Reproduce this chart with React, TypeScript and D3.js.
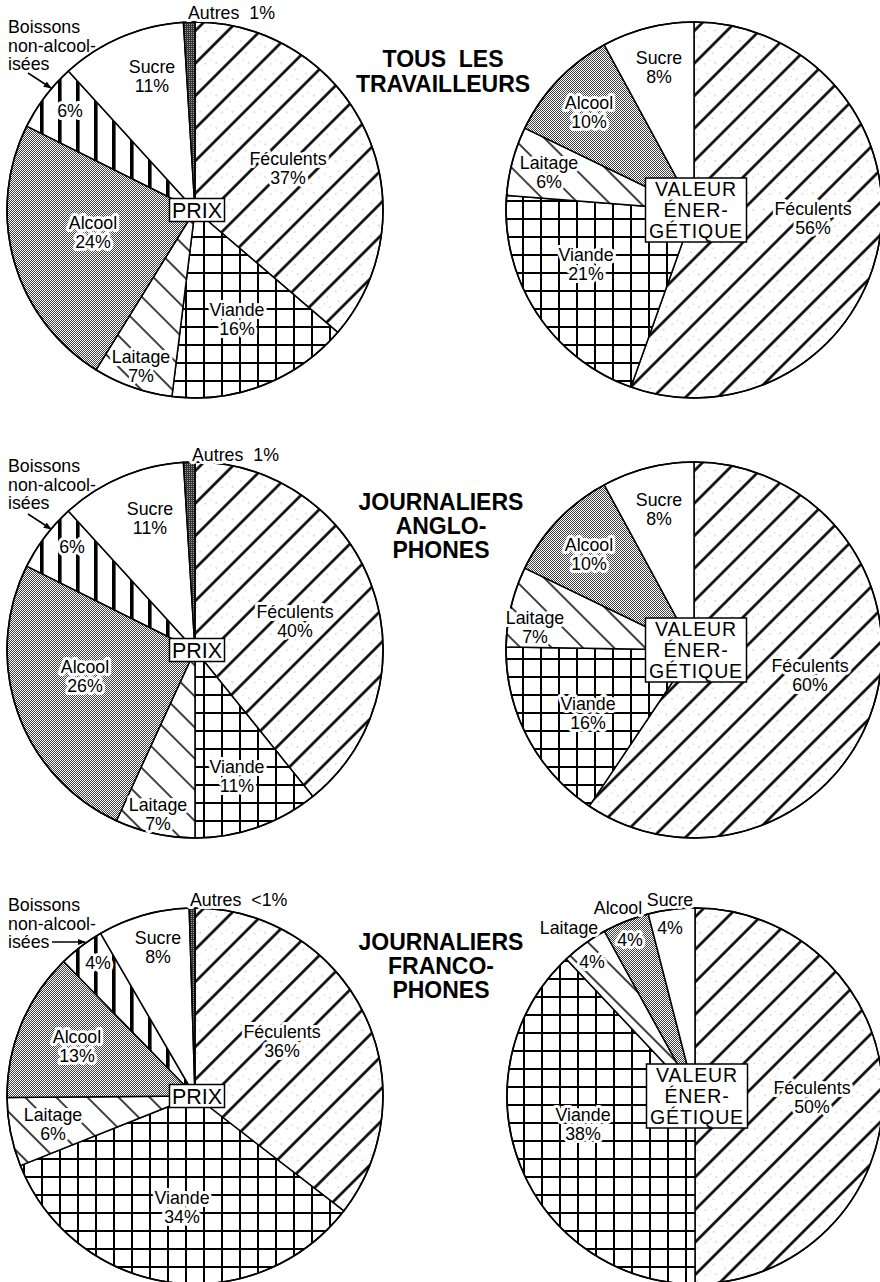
import React from 'react';
import * as d3 from 'd3';

// ---------- DATA ----------
const prixCategories = ['Féculents', 'Viande', 'Laitage', 'Alcool', 'Boissons', 'Sucre', 'Autres'];
const energieCategories = ['Féculents', 'Viande', 'Laitage', 'Alcool', 'Sucre'];

const prixTous = [37, 16, 7, 24, 6, 11, 1];
const energieTous = [56, 21, 6, 10, 8];
const prixAnglo = [40, 11, 7, 26, 6, 11, 1];
const energieAnglo = [60, 16, 7, 10, 8];
const prixFranco = [36, 34, 6, 13, 4, 8, 0.5];
const energieFranco = [50, 38, 4, 4, 4];

const groupTitles = [
  ['TOUS\u00A0\u00A0LES', 'TRAVAILLEURS'],
  ['JOURNALIERS', 'ANGLO-', 'PHONES'],
  ['JOURNALIERS', 'FRANCO-', 'PHONES'],
];
const boissonsLines = ['Boissons', 'non-alcool-', 'isées'];
const prixCenter = ['PRIX'];
const energieCenter = ['VALEUR', 'ÉNER-', 'GÉTIQUE'];

// ---------- LAYOUT ----------
const W = 880;
const H = 1282;
const R = 188;
const FONT = "'Liberation Sans', Arial, Helvetica, sans-serif";
const LFS = 17.8;

type Lab = number[]; // [dx, dy, pdx?, pdy?] name centre; pct offset from name
const layoutTL: Record<string, Lab> = {
  'Féculents': [93, -51], 'Viande': [42, 100], 'Laitage': [-54, 147], 'Alcool': [-102, 13],
  'Boissons': [-125, -99], 'Sucre': [-43, -143], 'Autres': [-7, -197],
};
const layoutML: Record<string, Lab> = {
  'Féculents': [100, -38], 'Viande': [42, 117], 'Laitage': [-37, 155], 'Alcool': [-110, 17],
  'Boissons': [-123, -103], 'Sucre': [-45, -141], 'Autres': [-3, -195],
};
const layoutBL: Record<string, Lab> = {
  'Féculents': [87, -64], 'Viande': [-13, 102], 'Laitage': [-142, 19], 'Alcool': [-118, -59],
  'Boissons': [-97, -133], 'Sucre': [-37, -158], 'Autres': [-5, -196],
};
const layoutTR: Record<string, Lab> = {
  'Sucre': [-35, -152], 'Alcool': [-105, -107], 'Laitage': [-145, -47], 'Féculents': [119, -1], 'Viande': [-108, 45],
};
const layoutMR: Record<string, Lab> = {
  'Sucre': [-35, -150], 'Alcool': [-105, -105], 'Laitage': [-159, -32], 'Féculents': [116, 16], 'Viande': [-106, 54],
};
const layoutBR: Record<string, Lab> = {
  'Sucre': [-25, -196, 0, 28], 'Alcool': [-77, -188, 12, 32], 'Laitage': [-126, -168, 23, 34],
  'Féculents': [117, -8], 'Viande': [-112, 19],
};

const fills: Record<string, string> = {
  'Féculents': 'url(#pFec)', 'Viande': 'url(#pGrid)', 'Laitage': 'url(#pLait)', 'Alcool': 'url(#pChk)',
  'Boissons': 'url(#pBars)', 'Sucre': '#ffffff', 'Autres': 'url(#pDark)',
};

const pies = [
  { cx: 195, cy: 210, cats: prixCategories, values: prixTous, layout: layoutTL, center: prixCenter, arrow: [[28, 73], [51, 88]], bl: [8, 27] },
  { cx: 694, cy: 210, cats: energieCategories, values: energieTous, layout: layoutTR, center: energieCenter },
  { cx: 195, cy: 650, cats: prixCategories, values: prixAnglo, layout: layoutML, center: prixCenter, arrow: [[28, 514], [51, 529]], bl: [8, 466] },
  { cx: 694, cy: 650, cats: energieCategories, values: energieAnglo, layout: layoutMR, center: energieCenter },
  { cx: 195, cy: 1096, cats: prixCategories, values: prixFranco, layout: layoutBL, center: prixCenter, arrow: [[52, 942], [85, 942]], bl: [8, 905] },
  { cx: 695, cy: 1096, cats: energieCategories, values: energieFranco, layout: layoutBR, center: energieCenter },
];
const titlePos = [[443, 59, 25], [441, 502, 24], [441, 942, 24]];

const fmt = (v: number) => (v < 1 ? '<1%' : `${v}%`);

function Label({ x, y, text, anchor = 'middle', size = LFS }: any) {
  const common = { x, y, dy: '0.36em', textAnchor: anchor, fontSize: size, fontFamily: FONT };
  return (
    <g>
      <text {...common} fill="#fff" stroke="#fff" strokeWidth={6} strokeLinejoin="round">{text}</text>
      <text {...common} fill="#000">{text}</text>
    </g>
  );
}

function Pie({ p }: any) {
  const arcs = d3.pie<number>().sort(null).value((d) => d)(p.values);
  const arc = d3.arc<d3.PieArcDatum<number>>().innerRadius(0).outerRadius(R);
  const isPrix = p.center.length === 1;
  const fs = isPrix ? 21.5 : 19.5;
  const ls = isPrix ? 0 : 0.9;
  const lh = 21;
  const boxW = isPrix ? 55 : 101;
  const boxH = isPrix ? 23 : 64;
  return (
    <g transform={`translate(${p.cx},${p.cy})`}>
      {arcs.map((a, i) => (
        <path key={i} d={arc(a) || ''} fill={fills[p.cats[i]]} stroke="#000" strokeWidth={1.5} strokeLinejoin="round" />
      ))}
      <circle r={R} fill="none" stroke="#000" strokeWidth={1.6} />
      {p.cats.map((c: string, i: number) => {
        const l = p.layout[c];
        if (!l) return null;
        const v = p.values[i];
        if (c === 'Autres') {
          return <Label key={c} x={l[0]} y={l[1]} anchor="start" text={`Autres\u00A0\u00A0${fmt(v)}`} />;
        }
        if (c === 'Boissons') {
          return <Label key={c} x={l[0]} y={l[1]} text={fmt(v)} />;
        }
        const pdx = l.length > 2 ? l[2] : 0;
        const pdy = l.length > 3 ? l[3] : 19;
        return (
          <g key={c}>
            <Label x={l[0]} y={l[1]} text={c} />
            <Label x={l[0] + pdx} y={l[1] + pdy} text={fmt(v)} />
          </g>
        );
      })}
      <rect x={-boxW / 2 + 2} y={-boxH / 2} width={boxW} height={boxH} fill="#fff" stroke="#000" strokeWidth={1.5} />
      {p.center.map((t: string, i: number) => (
        <text key={i} x={2} y={(i - (p.center.length - 1) / 2) * lh} dy="0.36em" textAnchor="middle"
          fontSize={fs} letterSpacing={ls} fontFamily={FONT} fill="#000">{t}</text>
      ))}
    </g>
  );
}

export default function App() {
  return (
    <svg width={W} height={H} viewBox={`0 0 ${W} ${H}`} style={{ position: 'absolute', left: 0, top: 0, background: '#fff' }}>
      <defs>
        <pattern id="pFec" width={23} height={23} patternUnits="userSpaceOnUse" patternTransform="rotate(-45)">
          <rect width={23} height={23} fill="#fff" />
          <circle cx={4} cy={3} r={0.6} fill="#777" />
          <circle cx={14} cy={5} r={0.6} fill="#888" />
          <circle cx={9} cy={17} r={0.6} fill="#777" />
          <circle cx={19} cy={19} r={0.6} fill="#888" />
          <circle cx={2} cy={20} r={0.5} fill="#999" />
          <line x1={0} x2={23} y1={11.5} y2={11.5} stroke="#000" strokeWidth={2.6} />
        </pattern>
        <pattern id="pGrid" width={18} height={18} patternUnits="userSpaceOnUse">
          <rect width={18} height={18} fill="#fff" />
          <path d="M0,9H18M9,0V18" stroke="#000" strokeWidth={2} />
        </pattern>
        <pattern id="pLait" width={22} height={22} patternUnits="userSpaceOnUse" patternTransform="rotate(45)">
          <rect width={22} height={22} fill="#fff" />
          <line x1={0} x2={22} y1={11} y2={11} stroke="#000" strokeWidth={1.5} />
        </pattern>
        <pattern id="pChk" width={2} height={2} patternUnits="userSpaceOnUse">
          <rect width={2} height={2} fill="#fff" />
          <rect width={1} height={1} fill="#444" />
          <rect x={1} y={1} width={1} height={1} fill="#444" />
        </pattern>
        <pattern id="pBars" width={18} height={10} patternUnits="userSpaceOnUse">
          <rect width={18} height={10} fill="#fff" />
          <rect x={7} width={3.6} height={10} fill="#000" />
        </pattern>
        <pattern id="pDark" width={2} height={2} patternUnits="userSpaceOnUse">
          <rect width={2} height={2} fill="#333" />
          <rect width={1} height={1} fill="#999" />
        </pattern>
        <marker id="arr" viewBox="0 0 10 10" refX={9} refY={5} markerWidth={8} markerHeight={8} orient="auto" markerUnits="userSpaceOnUse">
          <path d="M0,1L10,5L0,9Z" fill="#000" />
        </marker>
      </defs>
      {pies.map((p, i) => (
        <g key={i}>
          <Pie p={p} />
          {p.bl && boissonsLines.map((t, j) => (
            <text key={j} x={p.bl[0]} y={p.bl[1] + j * 18.5} dy="0.36em" fontSize={LFS} fontFamily={FONT}>{t}</text>
          ))}
          {p.arrow && (
            <line x1={p.arrow[0][0]} y1={p.arrow[0][1]} x2={p.arrow[1][0]} y2={p.arrow[1][1]} stroke="#000" strokeWidth={1.5} markerEnd="url(#arr)" />
          )}
        </g>
      ))}
      {groupTitles.map((lines, i) => (
        <g key={i}>
          {lines.map((t, j) => (
            <text key={j} x={titlePos[i][0]} y={titlePos[i][1] + j * titlePos[i][2]} dy="0.36em" textAnchor="middle"
              fontSize={23} fontWeight="bold" fontFamily={FONT}>{t}</text>
          ))}
        </g>
      ))}
    </svg>
  );
}
